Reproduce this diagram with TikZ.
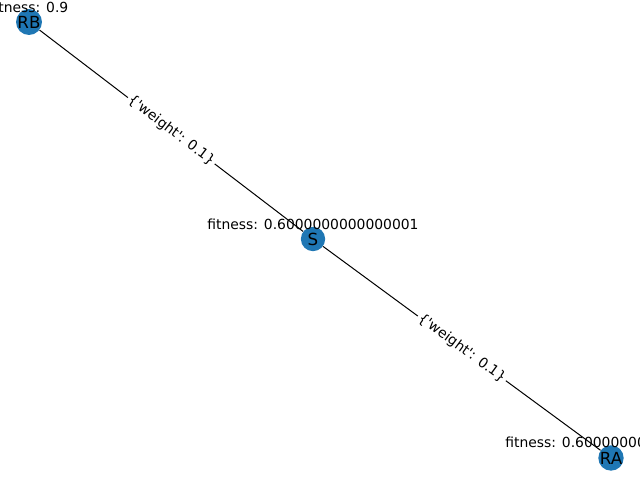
\documentclass[tikz,border=0pt]{standalone}
\usepackage{fontspec}
\setmainfont{DejaVu Sans}
\definecolor{nxBlue}{HTML}{1F77B4}
\newcommand{\wlabel}{\{\textquotesingle weight\textquotesingle: 0.1\}}

\begin{document}
\begin{tikzpicture}[x = 0.72pt, y = -0.72pt,
		vertex/.style = {circle, fill = nxBlue, minimum size = 17.5pt, inner sep = 0pt, font = \fontsize{12}{12}\selectfont},
		fitlab/.style = {inner sep = 0pt, font = \fontsize{10}{10}\selectfont},
		wlab/.style = {fill = white, sloped, inner sep = 1.5pt, font = \fontsize{10}{10}\selectfont}]
		\useasboundingbox (0, 0) rectangle (640, 480);
		\clip (0, 0) rectangle (640, 480);
		%%%%%%%%%%%%%
		\node (RB) [vertex] at (29, 22) {RB};
		\node (S) [vertex] at (313, 239) {S};
		\node (RA) [vertex] at (611, 458) {RA};
		%%%%%%%%%%%%%
		\node (fRB) [fitlab] at (29, 7) {fitness: 0.9};
		\node (fS) [fitlab] at (313, 224) {fitness: 0.6000000000000001};
		\node (fRA) [fitlab] at (611, 442) {fitness: 0.6000000000000001};
		%%%%%%%%%%%%%
		\draw [line width = 0.72pt] (RB) -- node [wlab] {\wlabel} (S);
		\draw [line width = 0.72pt] (S) -- node [wlab] {\wlabel} (RA);
\end{tikzpicture}
\end{document}
